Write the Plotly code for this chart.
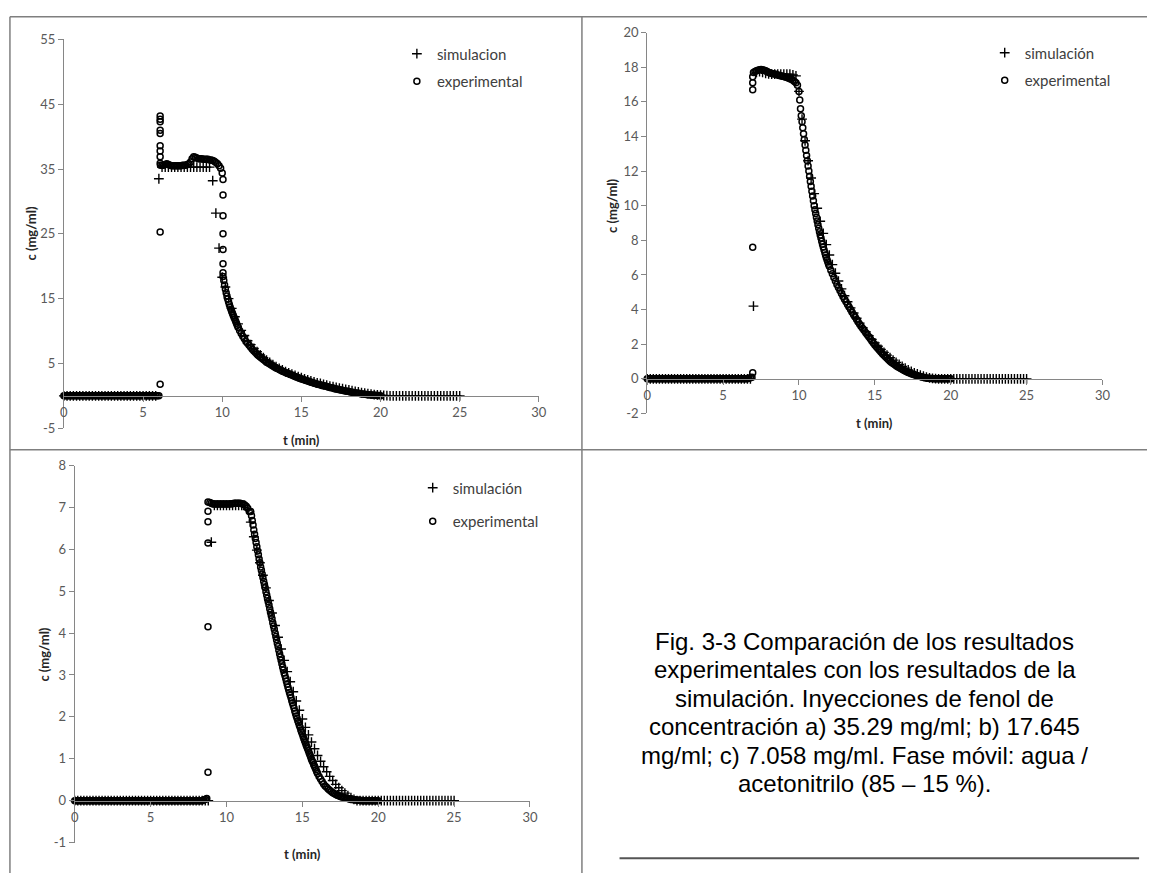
import plotly.graph_objects as go

W, H = 1155, 881

# ---------------- data ----------------
# Panel a) 35.29 mg/ml  (experimental: circles, simulation: crosses)
A_EXP_BASE = [0, 0, 0, 0, 0, 0, 0, 0, 0, 0, 0, 0, 0, 0, 0, 0, 0, 0, 0, 0,
              0, 0, 0, 0, 0, 0, 0, 0, 0, 0, 0, 0, 0, 0, 0, 0, 0, 0, 0, 0,
              0, 0, 0, 0, 0, 0, 0, 0, 0, 0, 0, 0, 0, 0, 0, 0, 0, 0, 0, 0, 0]  # t 0.0-6.0 / 0.1
A_EXP_RISE_T = 6.08
A_EXP_RISE = [1.8, 25.3, 35.9, 36.9, 37.8, 38.6, 40.5, 41.0, 42.3, 42.7, 43.2]
A_EXP_PLAT = [35.6, 35.6, 35.6, 35.7, 35.8, 35.7, 35.6, 35.5, 35.5, 35.5,
              35.5, 35.5, 35.5, 35.5, 35.6, 35.6, 35.6, 35.7, 35.8, 36.1,
              36.6, 36.9, 36.8, 36.7, 36.6, 36.6, 36.6, 36.5, 36.5, 36.5,
              36.5, 36.4, 36.4, 36.3, 36.2, 36.0, 35.8, 35.5, 35.1, 34.4]  # t 6.1-10.0 / 0.1
A_EXP_DROP_T = 10.05
A_EXP_DROP = [33.4, 31.0, 27.8, 25.0, 22.6, 20.4, 19.0, 18.4]
A_EXP_TAIL1 = [17.8, 17.1, 16.5, 15.9, 15.4, 14.95, 14.5, 14.1, 13.7, 13.35,
               13.0, 12.7, 12.4, 12.1, 11.8, 11.5, 11.2, 10.9, 10.6]  # t 10.10-11.00 / 0.05
A_EXP_TAIL2 = [10.1, 9.6, 9.2, 8.8, 8.4, 8.1, 7.8, 7.5, 7.2, 6.9,
               6.7, 6.4, 6.2, 6.0, 5.8, 5.6, 5.4, 5.2, 5.05, 4.9,
               4.75, 4.6, 4.45, 4.3, 4.2, 4.05, 3.95, 3.8, 3.7, 3.6,
               3.5, 3.4, 3.3, 3.2, 3.1, 3.0, 2.9, 2.8, 2.7, 2.6,
               2.55, 2.45, 2.35, 2.3, 2.2, 2.1, 2.05, 1.95, 1.9, 1.8,
               1.75, 1.7, 1.6, 1.55, 1.5, 1.45, 1.35, 1.3, 1.25, 1.2,
               1.1, 1.05, 1.0, 0.95, 0.9, 0.85, 0.8, 0.75, 0.7, 0.65,
               0.6, 0.55, 0.5, 0.45, 0.42, 0.38, 0.34, 0.3, 0.27, 0.24,
               0.21, 0.18, 0.15, 0.13, 0.11, 0.09, 0.07, 0.05, 0.04, 0.03]  # t 11.1-20.0 / 0.1
A_SIM = [0, 0, 0, 0, 0, 0, 0, 0, 0, 0, 0, 0, 0, 0, 0, 0, 0, 0, 0, 0,
         0, 0, 0, 0, 0, 0, 0, 0, 0, 0,
         33.5,
         35.3, 35.3, 35.3, 35.3, 35.3, 35.3, 35.3, 35.3, 35.3, 35.3, 35.3, 35.3, 35.3, 35.3, 35.3, 35.3,
         33.2, 28.2, 22.8, 18.3,
         16.8, 15.0, 13.5, 12.2, 11.1, 10.1, 9.3, 8.5, 7.9, 7.3,
         6.8, 6.3, 5.9, 5.5, 5.15, 4.8, 4.5, 4.25, 4.0, 3.75,
         3.55, 3.35, 3.15, 2.95, 2.8, 2.6, 2.45, 2.3, 2.15, 2.0,
         1.9, 1.75, 1.65, 1.5, 1.4, 1.3, 1.2, 1.1, 1.0, 0.9,
         0.8, 0.7, 0.6, 0.5, 0.42, 0.34, 0.27, 0.2, 0.14, 0.09,
         0.05, 0.03,
         0, 0, 0, 0, 0, 0, 0, 0, 0, 0, 0, 0, 0, 0, 0, 0, 0, 0, 0, 0, 0, 0, 0]  # t 0-25 / 0.2

# Panel b) 17.645 mg/ml
B_EXP_BASE = [0, 0, 0, 0, 0, 0, 0, 0, 0, 0, 0, 0, 0, 0, 0, 0, 0, 0, 0, 0,
              0, 0, 0, 0, 0, 0, 0, 0, 0, 0, 0, 0, 0, 0, 0, 0, 0, 0, 0, 0,
              0, 0, 0, 0, 0, 0, 0, 0, 0, 0, 0, 0, 0, 0, 0, 0, 0, 0, 0, 0,
              0, 0, 0, 0, 0, 0, 0, 0.03, 0.06, 0.1]  # t 0.0-6.9 / 0.1
B_EXP_RISE_T = 6.95
B_EXP_RISE = [0.35, 7.6, 16.7, 17.1, 17.45]
B_EXP_PLAT = [17.7, 17.75, 17.8, 17.82, 17.85, 17.86, 17.85, 17.83, 17.8, 17.75,
              17.7, 17.67, 17.64, 17.62, 17.6, 17.58, 17.55, 17.52, 17.5, 17.48,
              17.46, 17.43, 17.4, 17.37, 17.33, 17.3, 17.25, 17.18, 17.1, 16.95]  # t 7.0-9.9 / 0.1
B_EXP_TAIL1 = [16.6, 16.1, 15.6, 15.2, 14.85, 14.5, 14.15, 13.83, 13.5, 13.2,
               12.9, 12.6, 12.3, 12.0, 11.7, 11.4, 11.12, 10.84, 10.56, 10.28,
               10.0, 9.77, 9.55, 9.33, 9.11, 8.9, 8.7, 8.5, 8.31, 8.13,
               7.95, 7.78, 7.62, 7.46, 7.3, 7.15, 7.01, 6.88, 6.75, 6.62, 6.5]  # t 10.00-12.00 / 0.05
B_EXP_TAIL2 = [6.28, 6.07, 5.86, 5.65, 5.45, 5.27, 5.1, 4.93, 4.76, 4.6,
               4.45, 4.3, 4.15, 4.0, 3.85, 3.71, 3.57, 3.43, 3.29, 3.15,
               3.03, 2.91, 2.79, 2.67, 2.55, 2.43, 2.31, 2.19, 2.07, 1.95,
               1.85, 1.75, 1.65, 1.55, 1.45, 1.36, 1.28, 1.19, 1.1, 1.02,
               0.95, 0.89, 0.83, 0.76, 0.7, 0.65, 0.6, 0.55, 0.5, 0.45,
               0.41, 0.37, 0.34, 0.3, 0.27, 0.24, 0.21, 0.18, 0.15, 0.13,
               0.11, 0.09, 0.07, 0.05, 0.04, 0.03, 0.02, 0.02, 0.01, 0.01,
               0, 0, 0, 0, 0, 0, 0, 0, 0, 0]  # t 12.1-20.0 / 0.1
B_SIM = [0, 0, 0, 0, 0, 0, 0, 0, 0, 0, 0, 0, 0, 0, 0, 0, 0, 0, 0, 0,
         0, 0, 0, 0, 0, 0, 0, 0, 0, 0, 0, 0, 0, 0, 0,
         4.2,
         17.7, 17.75, 17.7, 17.65, 17.62, 17.6, 17.6, 17.6, 17.6, 17.6, 17.6, 17.6, 17.55, 17.5,
         16.6, 15.0, 13.75, 12.6, 11.6, 10.7, 9.85, 9.1, 8.4, 7.75,
         7.15, 6.6, 6.1, 5.65, 5.2, 4.8, 4.45, 4.1, 3.8, 3.5,
         3.22, 2.96, 2.72, 2.5, 2.28, 2.08, 1.88, 1.7, 1.53, 1.37,
         1.22, 1.08, 0.95, 0.83, 0.72, 0.62, 0.52, 0.43, 0.35, 0.28,
         0.21, 0.15, 0.1, 0.06, 0.03, 0.01,
         0, 0, 0, 0, 0, 0, 0, 0, 0, 0, 0, 0, 0, 0, 0,
         0, 0, 0, 0, 0, 0, 0, 0, 0, 0, 0, 0, 0, 0, 0]  # t 0-25 / 0.2

# Panel c) 7.058 mg/ml
C_EXP_BASE = [0, 0, 0, 0, 0, 0, 0, 0, 0, 0, 0, 0, 0, 0, 0, 0, 0, 0, 0, 0,
              0, 0, 0, 0, 0, 0, 0, 0, 0, 0, 0, 0, 0, 0, 0, 0, 0, 0, 0, 0,
              0, 0, 0, 0, 0, 0, 0, 0, 0, 0, 0, 0, 0, 0, 0, 0, 0, 0, 0, 0,
              0, 0, 0, 0, 0, 0, 0, 0, 0, 0, 0, 0, 0, 0, 0, 0, 0, 0, 0, 0,
              0, 0, 0, 0, 0, 0.02, 0.03, 0.05]  # t 0.0-8.7 / 0.1
C_EXP_RISE_T = 8.78
C_EXP_RISE = [0.68, 4.15, 6.15, 6.66, 6.91, 7.13]
C_EXP_PLAT = [7.12, 7.1, 7.08, 7.08, 7.08, 7.08, 7.08, 7.08, 7.08, 7.08,
              7.08, 7.08, 7.08, 7.08, 7.09, 7.09, 7.1, 7.1, 7.1, 7.1,
              7.1, 7.09, 7.08, 7.06, 7.03, 6.98, 6.9]  # t 8.9-11.5 / 0.1
C_EXP_TAIL1 = [6.90, 6.80, 6.69, 6.58, 6.46, 6.36, 6.26, 6.16, 6.06, 5.96,
               5.87, 5.77, 5.68, 5.58, 5.50, 5.41, 5.33, 5.24, 5.16, 5.08,
               4.99, 4.91, 4.83, 4.75, 4.67, 4.58, 4.50, 4.42, 4.34, 4.25,
               4.17, 4.09, 4.00, 3.92, 3.84, 3.76, 3.68, 3.59, 3.51, 3.43,
               3.35, 3.27, 3.19, 3.12, 3.05, 2.99, 2.92, 2.85, 2.78, 2.71,
               2.65, 2.58, 2.52, 2.46, 2.39, 2.33, 2.27, 2.21, 2.14, 2.08,
               2.02, 1.97, 1.91, 1.86, 1.80, 1.75, 1.69, 1.64, 1.59, 1.53,
               1.48, 1.43, 1.38, 1.33, 1.28, 1.24, 1.19, 1.14, 1.09, 1.04,
               0.99, 0.95, 0.91, 0.86, 0.82, 0.78, 0.74, 0.69, 0.65]  # t 11.60-16.00 / 0.05
C_EXP_TAIL2 = [0.58, 0.52, 0.46, 0.4, 0.35, 0.32, 0.28, 0.25, 0.22, 0.19,
               0.17, 0.15, 0.13, 0.12, 0.1, 0.09, 0.08, 0.07, 0.06, 0.05,
               0.04, 0.03, 0.03, 0.02, 0.02, 0.01, 0.01, 0.01, 0, 0,
               0, 0, 0, 0, 0, 0, 0, 0, 0, 0]  # t 16.1-20.0 / 0.1
C_SIM = [0, 0, 0, 0, 0, 0, 0, 0, 0, 0, 0, 0, 0, 0, 0, 0, 0, 0, 0, 0,
         0, 0, 0, 0, 0, 0, 0, 0, 0, 0, 0, 0, 0, 0, 0, 0, 0, 0, 0, 0,
         0, 0, 0, 0, 0,
         6.17,
         7.05, 7.05, 7.05, 7.05, 7.05, 7.05, 7.05, 7.05, 7.05, 7.05, 7.05,
         6.95, 6.65, 6.3, 5.98, 5.68, 5.38, 5.08, 4.78, 4.48, 4.18,
         3.9, 3.62, 3.35, 3.08, 2.84, 2.6, 2.38, 2.16, 1.95, 1.75,
         1.57, 1.4, 1.24, 1.08, 0.94, 0.81, 0.69, 0.58, 0.48, 0.39,
         0.31, 0.24, 0.18, 0.12, 0.07, 0.03,
         0, 0, 0, 0, 0, 0, 0, 0, 0, 0, 0, 0, 0, 0, 0, 0, 0,
         0, 0, 0, 0, 0, 0, 0, 0, 0, 0, 0, 0, 0, 0, 0, 0]  # t 0-25 / 0.2

X_TICKS = [0, 5, 10, 15, 20, 25, 30]
A_Y_TICKS = [-5, 5, 15, 25, 35, 45, 55]
B_Y_TICKS = [-2, 0, 2, 4, 6, 8, 10, 12, 14, 16, 18, 20]
C_Y_TICKS = [-1, 0, 1, 2, 3, 4, 5, 6, 7, 8]
CAPTION = ["Fig. 3-3 Comparación de los resultados",
           "experimentales con los resultados de la",
           "simulación. Inyecciones de fenol de",
           "concentración a) 35.29 mg/ml; b) 17.645",
           "mg/ml; c) 7.058 mg/ml. Fase móvil: agua /",
           "acetonitrilo (85 – 15 %)."]


def build(parts):
    t, c = [], []
    for t0, dt, vals in parts:
        t += [round(t0 + dt * i, 3) for i in range(len(vals))]
        c += list(vals)
    return t, c


def fx(px):
    return px / W


def fy(py):
    return 1 - py / H


panels = [
    dict(sim_name="simulacion", sim=A_SIM, yticks=A_Y_TICKS,
         exp=[(0.0, 0.1, A_EXP_BASE), (A_EXP_RISE_T, 0, A_EXP_RISE), (6.1, 0.1, A_EXP_PLAT),
              (A_EXP_DROP_T, 0, A_EXP_DROP), (10.1, 0.05, A_EXP_TAIL1), (11.1, 0.1, A_EXP_TAIL2)],
         xdom=(60.5, 540.5), ydom=(32, 428), yr=(-5, 55),
         ylab=(27, 230), xlab=(300.5, 440), leg=(397, 30), gap=5),
    dict(sim_name="simulación", sim=B_SIM, yticks=B_Y_TICKS,
         exp=[(0.0, 0.1, B_EXP_BASE), (B_EXP_RISE_T, 0, B_EXP_RISE), (7.0, 0.1, B_EXP_PLAT),
              (10.0, 0.05, B_EXP_TAIL1), (12.1, 0.1, B_EXP_TAIL2)],
         xdom=(650, 1110), ydom=(25, 413), yr=(-2, 20),
         ylab=(615, 202), xlab=(880, 423), leg=(991, 29), gap=5),
    dict(sim_name="simulación", sim=C_SIM, yticks=C_Y_TICKS,
         exp=[(0.0, 0.1, C_EXP_BASE), (C_EXP_RISE_T, 0, C_EXP_RISE), (8.9, 0.1, C_EXP_PLAT),
              (11.6, 0.05, C_EXP_TAIL1), (16.1, 0.1, C_EXP_TAIL2)],
         xdom=(71.5, 531.5), ydom=(466, 850), yr=(-1, 8),
         ylab=(40, 659), xlab=(301.5, 862), leg=(413, 472), gap=11),
]

FONT = "Lato, Open Sans, sans-serif"
AX_GRAY = "#868686"
fig = go.Figure()
annotations = []
layout_axes = {}

for i, p in enumerate(panels, start=1):
    sfx = "" if i == 1 else str(i)
    legname = "legend" if i == 1 else f"legend{i}"
    sim_t, sim_c = build([(0.0, 0.2, p["sim"])])
    exp_t, exp_c = build(p["exp"])
    fig.add_trace(go.Scatter(
        x=sim_t, y=sim_c, mode="markers", name=p["sim_name"],
        xaxis="x" + sfx, yaxis="y" + sfx, legend=legname, legendgroup=f"s{i}",
        cliponaxis=False,
        marker=dict(symbol="cross-thin-open", size=7, color="black",
                    line=dict(color="black", width=1.4))))
    fig.add_trace(go.Scatter(
        x=exp_t, y=exp_c, mode="markers", name="experimental",
        xaxis="x" + sfx, yaxis="y" + sfx, legend=legname, legendgroup=f"e{i}",
        cliponaxis=False,
        marker=dict(symbol="circle-open", size=6, color="black",
                    line=dict(color="black", width=1.5))))

    y0, y1 = p["yr"]
    top, bot = p["ydom"]
    zero_px = top + (y1 - 0) / (y1 - y0) * (bot - top)
    layout_axes["xaxis" + sfx] = dict(
        domain=[fx(p["xdom"][0]), fx(p["xdom"][1])], range=[0, 30],
        anchor="free", position=fy(zero_px),
        tickmode="array", tickvals=X_TICKS, ticktext=[str(v) for v in X_TICKS],
        ticks="outside", ticklen=5,
        tickcolor=AX_GRAY, showline=True, linecolor=AX_GRAY, linewidth=1,
        showgrid=False, zeroline=False,
        tickfont=dict(family=FONT, size=13, color="#595959"))
    layout_axes["yaxis" + sfx] = dict(
        domain=[fy(bot), fy(top)], range=[y0, y1], anchor="x" + sfx,
        tickmode="array", tickvals=p["yticks"], ticktext=[str(v) for v in p["yticks"]],
        ticks="outside", ticklen=5,
        tickcolor=AX_GRAY, showline=True, linecolor=AX_GRAY, linewidth=1,
        showgrid=False, zeroline=False,
        tickfont=dict(family=FONT, size=13, color="#595959"))
    layout_axes[legname] = dict(
        x=fx(p["leg"][0]), y=fy(p["leg"][1]), xanchor="left", yanchor="top",
        bgcolor="rgba(0,0,0,0)", traceorder="grouped", tracegroupgap=p["gap"],
        itemwidth=30, font=dict(family=FONT, size=15, color="#404040"))
    annotations.append(dict(
        text="<b>c (mg/ml)</b>", x=fx(p["ylab"][0]), y=fy(p["ylab"][1]),
        xanchor="center", yanchor="middle",
        xref="paper", yref="paper", showarrow=False, textangle=-90,
        font=dict(family=FONT, size=13, color="#262626")))
    annotations.append(dict(
        text="<b>t (min)</b>", x=fx(p["xlab"][0]), y=fy(p["xlab"][1]),
        xanchor="center", yanchor="middle",
        xref="paper", yref="paper", showarrow=False,
        font=dict(family=FONT, size=13, color="#262626")))

# caption: one annotation per line for exact line spacing
for k, line in enumerate(CAPTION):
    annotations.append(dict(
        text=line, x=fx(870), y=fy(645 + 29 * k), xanchor="center", yanchor="middle",
        xref="paper", yref="paper", showarrow=False,
        font=dict(family="Liberation Sans, Arial, sans-serif", size=24, color="black")))

LINE = dict(color="#7f7f7f", width=1.5)
shapes = [
    dict(type="line", xref="paper", yref="paper", x0=fx(6), x1=1, y0=fy(9), y1=fy(9), line=LINE),
    dict(type="line", xref="paper", yref="paper", x0=fx(6), x1=fx(6), y0=fy(9), y1=0, line=LINE),
    dict(type="line", xref="paper", yref="paper", x0=fx(584), x1=fx(584), y0=fy(9), y1=0, line=LINE),
    dict(type="line", xref="paper", yref="paper", x0=fx(6), x1=1, y0=fy(450), y1=fy(450), line=LINE),
    dict(type="line", xref="paper", yref="paper", x0=fx(622), x1=fx(1147), y0=fy(866), y1=fy(866),
         line=dict(color="#555555", width=2)),
]

fig.update_layout(
    width=W, height=H, margin=dict(l=0, r=0, t=0, b=0),
    paper_bgcolor="white", plot_bgcolor="white",
    showlegend=True, annotations=annotations, shapes=shapes,
    **layout_axes)

fig.write_html("out.html")
